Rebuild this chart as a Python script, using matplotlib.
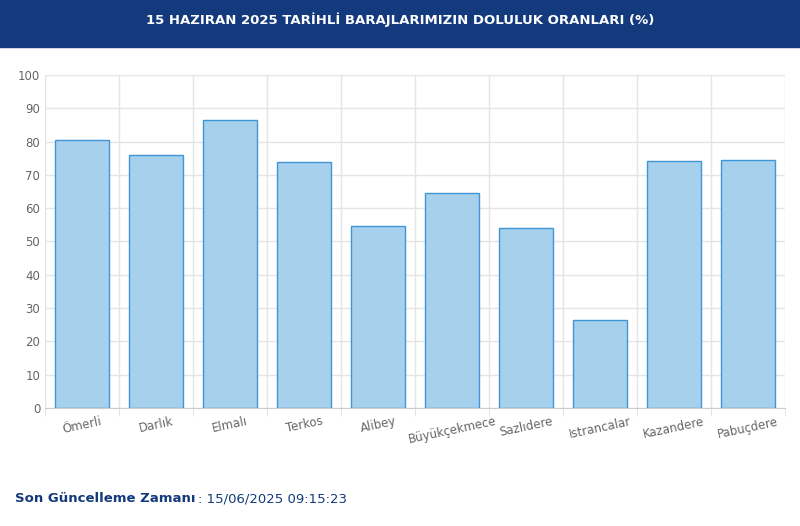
import matplotlib.pyplot as plt
from matplotlib.patches import Rectangle

dams = ["Ömerli", "Darlık", "Elmalı", "Terkos", "Alibey", "Büyükçekmece",
        "Sazlıdere", "Istrancalar", "Kazandere", "Pabuçdere"]
fill_pct = [80.6, 76.1, 86.6, 73.9, 54.8, 64.7, 54.2, 26.3, 74.2, 74.4]

fig = plt.figure(figsize=(8, 5.26), dpi=100)
fig.patches.append(Rectangle((0, 1 - 47 / 526), 1, 47 / 526, transform=fig.transFigure,
                             color='#133a7c', zorder=0))
fig.text(0.5, 1 - 20 / 526, "15 HAZIRAN 2025 TARİHLİ BARAJLARIMIZIN DOLULUK ORANLARI (%)",
         color='white', fontsize=9.5, fontweight='bold', ha='center', va='center')

ax = fig.add_axes([45 / 800, 118 / 526, 740 / 800, 333 / 526])
x = range(len(dams))
ax.bar(x, fill_pct, width=0.72, color='#a6d0ec', edgecolor='#3f96d6', linewidth=1, zorder=3)

ax.set_xlim(-0.5, len(dams) - 0.5)
ax.set_ylim(0, 100)
ax.set_yticks(range(0, 101, 10))
ax.set_xticks([i - 0.5 for i in range(len(dams) + 1)], minor=True)
ax.set_xticks(list(x))
ax.set_xticklabels(dams, rotation=12, ha='center', color='#666666', fontsize=8.5)
ax.tick_params(axis='x', which='major', length=0, pad=5)
ax.tick_params(axis='x', which='minor', length=6, color='#dddddd')
ax.tick_params(axis='y', length=0, labelsize=8.5, labelcolor='#666666')
ax.grid(axis='y', color='#e5e5e5', linewidth=1, zorder=0)
ax.grid(axis='x', which='minor', color='#e5e5e5', linewidth=1, zorder=0)
for s in ['top', 'right', 'left']:
    ax.spines[s].set_visible(False)
ax.spines['bottom'].set_color('#cccccc')

label = fig.text(15 / 800, 1 - 499 / 526, "Son Güncelleme Zamanı", color='#133a7c',
                 fontsize=9.5, fontweight='bold', va='center')
fig.canvas.draw()
ext = label.get_window_extent()
fig.text(ext.x1 / 800 + 0.003, 1 - 499 / 526, ": 15/06/2025 09:15:23", color='#133a7c',
         fontsize=9.5, va='center')

fig.savefig("out.png", dpi=100)
